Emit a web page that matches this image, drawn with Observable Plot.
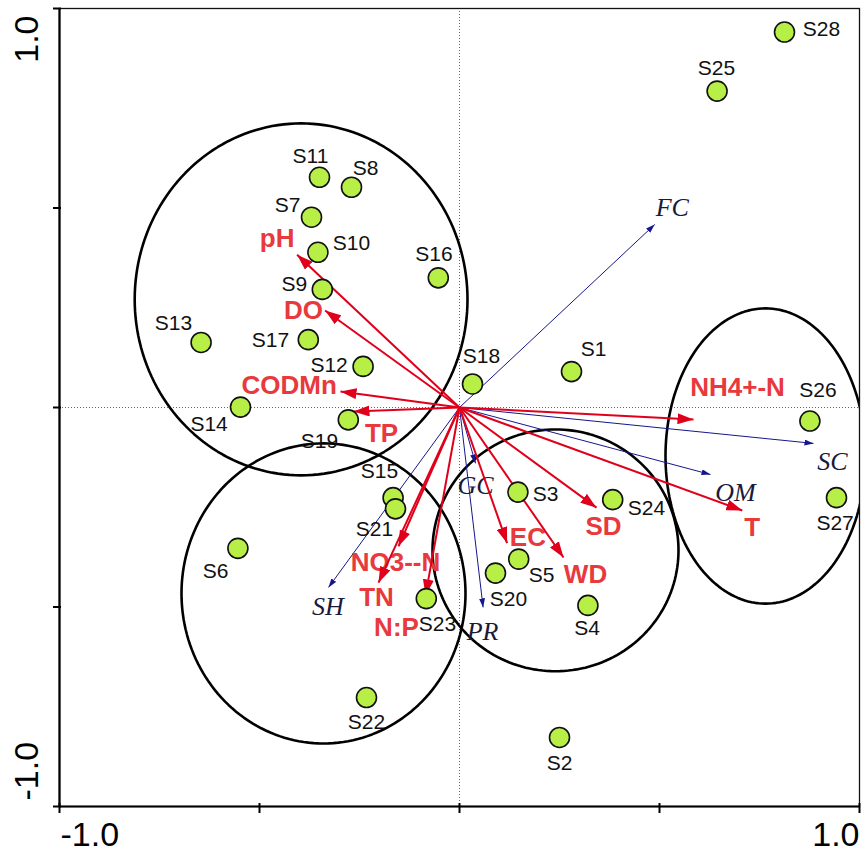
<!DOCTYPE html>
<html><head><meta charset="utf-8">
<script src="https://cdn.jsdelivr.net/npm/d3@7"></script>
<script src="https://cdn.jsdelivr.net/npm/@observablehq/plot@0.6"></script>
<style>html,body{margin:0;padding:0;background:#fff}svg{display:block}</style>
</head><body><div id="chart"></div>
<script>
// ---- Sites (samples) ----
const sites = ["S1","S2","S3","S4","S5","S6","S7","S8","S9","S10","S11","S12","S13","S14","S15","S16","S17","S18","S19","S20","S21","S22","S23","S24","S25","S26","S27","S28"];
const siteX = [0.28,0.25,0.146,0.321,0.148,-0.554,-0.37,-0.27,-0.343,-0.354,-0.35,-0.241,-0.646,-0.5475,-0.166,-0.053,-0.378,0.0325,-0.278,0.09,-0.16,-0.2325,-0.083,0.383,0.644,0.876,0.9425,0.8125];
const siteY = [0.09,-0.827,-0.212,-0.496,-0.38,-0.353,0.477,0.552,0.296,0.389,0.577,0.103,0.163,0.001,-0.226,0.325,0.17,0.059,-0.031,-0.415,-0.254,-0.727,-0.479,-0.231,0.793,-0.034,-0.226,0.941];
// label anchor points (data units)
const siteLabelX = [0.335,0.25,0.215,0.319,0.205,-0.61,-0.43,-0.235,-0.413,-0.27,-0.3725,-0.326,-0.715,-0.626,-0.2,-0.064,-0.4725,0.055,-0.35,0.1225,-0.2125,-0.2325,-0.055,0.4675,0.6425,0.896,0.939,0.905];
const siteLabelY = [0.1454,-0.892,-0.218,-0.554,-0.42,-0.41,0.507,0.6,0.308,0.411,0.63,0.105,0.212,-0.043,-0.16,0.384,0.168,0.129,-0.0845,-0.481,-0.306,-0.789,-0.544,-0.252,0.851,0.044,-0.289,0.9486];

// ---- Environmental factors (red arrows) ----
const envNames = ["pH","DO","CODMn","TP","NO3--N","TN","N:P","EC","WD","SD","T","NH4+-N"];
const envX = [-0.406,-0.336,-0.2975,-0.265,-0.1525,-0.2025,-0.085,0.119,0.26,0.3425,0.707,0.585];
const envY = [0.383,0.243,0.04,-0.01,-0.348,-0.439,-0.471,-0.34,-0.376,-0.251,-0.258,-0.03];
const envLabelX = [-0.456,-0.39,-0.426,-0.195,-0.16,-0.2075,-0.1575,0.171,0.315,0.36,0.732,0.695];
const envLabelY = [0.4236,0.242,0.055,-0.065,-0.3885,-0.476,-0.551,-0.326,-0.4185,-0.298,-0.301,0.049];

// ---- Response variables (blue arrows) ----
const spNames = ["FC","SC","OM","GC","PR","SH"];
const spX = [0.488,0.885,0.6275,0.04,0.059,-0.3275];
const spY = [0.4586,-0.09,-0.168,-0.14,-0.501,-0.451];
const spLabelX = [0.532,0.9325,0.69,0.04,0.0575,-0.329];
const spLabelY = [0.501,-0.135,-0.213,-0.195,-0.561,-0.499];

// ---- Group ellipses ----
const ellCX = [-0.396,-0.34,0.24,0.765];
const ellCY = [0.271,-0.466,-0.358,-0.1216];
const ellRX = [0.416,0.355,0.3075,0.25];
const ellRY = [0.441,0.376,0.303,0.37];

// ---- Axis ticks ----
const tickValues = [-1,-0.5,0,0.5,1];
const xTickLabels = ["-1.0","1.0"];
const yTickLabels = ["-1.0","1.0"];

// ---- tables ----
const siteTable = sites.map((s,i)=>({name:s,x:siteX[i],y:siteY[i],lx:siteLabelX[i],ly:siteLabelY[i]}));
const envTable = envNames.map((s,i)=>({name:s,x0:0,y0:0,x:envX[i],y:envY[i],lx:envLabelX[i],ly:envLabelY[i]}));
const spTable = spNames.map((s,i)=>({name:s,x0:0,y0:0,x:spX[i],y:spY[i],lx:spLabelX[i],ly:spLabelY[i]}));
const ellPts = [];
ellCX.forEach((cx,i)=>{
  for (let a=0;a<=360;a+=2){
    const t=a*Math.PI/180;
    ellPts.push({id:i,x:cx+ellRX[i]*Math.cos(t),y:ellCY[i]+ellRY[i]*Math.sin(t)});
  }
});

function head(len, wid){
  return (color)=>{
    const m = d3.create("svg:marker")
      .attr("viewBox", `0 ${-wid/2} ${len} ${wid}`)
      .attr("markerWidth", len).attr("markerHeight", wid)
      .attr("markerUnits","userSpaceOnUse")
      .attr("refX", len).attr("refY", 0)
      .attr("orient","auto");
    m.append("path").attr("d",`M0,${-wid/2}L${len},0L0,${wid/2}Z`).attr("fill",color).attr("stroke","none");
    return m.node();
  };
}

const SANS = "Liberation Sans, Arial, sans-serif";
const SERIF = "Liberation Serif, Times New Roman, serif";
const RED_LINE = "#e0001b", RED_TEXT = "#e8393d", BLUE = "#16168c";

function build(redHead, blueHead){
  return Plot.plot({
    width: 861, height: 852,
    marginLeft: 59, marginRight: 2, marginTop: 8, marginBottom: 46,
    x: {domain:[-1,1], label:null},
    y: {domain:[-1,1], label:null},
    style: {background:"#fff", fontFamily: SANS},
    marks: [
      Plot.ruleX([0], {stroke:"#666", strokeWidth:1, strokeDasharray:"1,2"}),
      Plot.ruleY([0], {stroke:"#666", strokeWidth:1, strokeDasharray:"1,2"}),
      Plot.line(ellPts, {x:"x", y:"y", z:"id", stroke:"#000", strokeWidth:2.6, clip:true}),
      Plot.link(spTable, {x1:"x0", y1:"y0", x2:"x", y2:"y", stroke:BLUE, strokeWidth:1, markerEnd: blueHead}),
      Plot.text(spTable, {x:"lx", y:"ly", text:"name", fontFamily:SERIF, fontStyle:"italic", fontSize:26, fill:"#1a1a3a"}),
      Plot.text(envTable, {x:"lx", y:"ly", text:"name", fontFamily:SANS, fontWeight:"bold", fontSize:26, fill:RED_TEXT}),
      Plot.link(envTable, {x1:"x0", y1:"y0", x2:"x", y2:"y", stroke:RED_LINE, strokeWidth:2, markerEnd: redHead}),
      Plot.dot(siteTable, {x:"x", y:"y", r:10, fill:"#b7ef47", stroke:"#111", strokeWidth:1.6}),
      Plot.text(siteTable, {x:"lx", y:"ly", text:"name", fontFamily:SANS, fontSize:21, fill:"#111"}),
      Plot.frame({stroke:"#111", strokeWidth:1.3}),
      Plot.ruleX([-1], {stroke:"#000", strokeWidth:2.2}),
      Plot.ruleY([-1], {stroke:"#000", strokeWidth:2.2}),
      Plot.axisX({ticks: tickValues, tickSize:10, dy:-3, tickFormat: () => "", stroke:"#000", strokeWidth:2}),
      Plot.axisY({ticks: tickValues, tickSize:8, dx:2, tickFormat: () => "", stroke:"#000", strokeWidth:2}),
      Plot.text([xTickLabels[0]], {x:-1, y:-1, text:d=>d, textAnchor:"start", dx:1, dy:29, fontSize:34, fontFamily:SANS, fill:"#000"}),
      Plot.text([xTickLabels[1]], {x:1, y:-1, text:d=>d, textAnchor:"end", dx:0, dy:29, fontSize:34, fontFamily:SANS, fill:"#000"}),
      Plot.text([yTickLabels[1]], {x:-1, y:1, text:d=>d, rotate:-90, textAnchor:"end", dx:-32, dy:7, fontSize:34, fontFamily:SANS, fill:"#000"}),
      Plot.text([yTickLabels[0]], {x:-1, y:-1, text:d=>d, rotate:-90, textAnchor:"start", dx:-32, dy:-6, fontSize:34, fontFamily:SANS, fill:"#000"})
    ]
  });
}

let chart;
try { chart = build(head(16,11), head(9,6)); }
catch(e){ chart = build("arrow","arrow"); }
document.getElementById("chart").appendChild(chart);
</script></body></html>
